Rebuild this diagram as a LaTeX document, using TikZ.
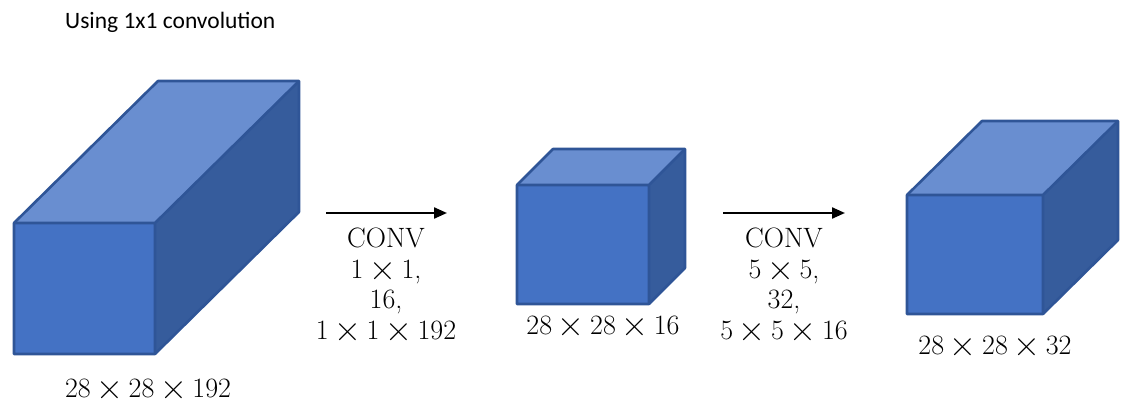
\documentclass[tikz,border=0pt]{standalone}
\usepackage{graphicx}
\usepackage{fontspec}
\newfontfamily\titlefont{Carlito}
\usetikzlibrary{arrows.meta}
\definecolor{frontc}{HTML}{4472C4}
\definecolor{topc}{HTML}{698ED0}
\definecolor{sidec}{HTML}{365C9C}
\definecolor{edgec}{HTML}{2F5597}
\newcommand{\tm}{\kern0.2em\raisebox{-0.085em}{\scalebox{1.33}{×}}\kern0.2em}
\tikzset{
  face/.style={draw=edgec, line width=2.6pt, line join=round},
  dimlabel/.style={font=\fontsize{28}{30.5}\selectfont, inner sep=0pt, anchor=center},
  convlabel/.style={font=\fontsize{28}{30.5}\selectfont, align=center, inner sep=0pt, anchor=north},
  convarrow/.style={line width=2.2pt, -{Triangle[length=13pt,width=11pt]}}
}
\newcommand{\cuboid}[6]{% x1 y1 x2 y2 dx dy (front face corners, depth offset)
  \fill[topc] (#1,#2) -- (#1+#5,#2+#6) -- (#3+#5,#2+#6) -- (#3,#2) -- cycle;
  \fill[sidec] (#3,#2) -- (#3+#5,#2+#6) -- (#3+#5,#4+#6) -- (#3,#4) -- cycle;
  \fill[frontc] (#1,#2) rectangle (#3,#4);
  \draw[face] (#1,#2) -- (#1+#5,#2+#6) -- (#3+#5,#2+#6) -- (#3+#5,#4+#6) -- (#3,#4) -- (#1,#4) -- cycle;
  \draw[face] (#1,#2) -- (#3,#2) -- (#3+#5,#2+#6) (#3,#2) -- (#3,#4);
}
\begin{document}
\begin{tikzpicture}[x=1pt,y=-1pt]
\useasboundingbox (0,0) rectangle (1128,409);
\node[anchor=base west, inner sep=0pt, font=\titlefont\fontsize{23.5}{25}\selectfont] (title) at (65,29) {Using 1x1 convolution};
% cuboids
\cuboid{14}{223}{155}{354}{144}{-142}
\cuboid{517}{185}{649}{304}{36}{-36}
\cuboid{907}{195}{1043}{314}{75}{-74}
% dimension labels
\node[dimlabel] (d1) at (148,389) {28\tm28\tm192};
\node[dimlabel] (d2) at (603,326) {28\tm28\tm16};
\node[dimlabel] (d3) at (995,346) {28\tm28\tm32};
% arrows
\coordinate (a1s) at (326,213);
\coordinate (a1e) at (447,213);
\coordinate (a2s) at (723,213);
\coordinate (a2e) at (845,213);
\draw[convarrow] (a1s) -- (a1e);
\draw[convarrow] (a2s) -- (a2e);
\node[convlabel] (c1) at (386,228) {CONV\\1\tm1,\\16,\\1\tm1\tm192};
\node[convlabel] (c2) at (784,228) {CONV\\5\tm5,\\32,\\5\tm5\tm16};
\end{tikzpicture}
\end{document}
